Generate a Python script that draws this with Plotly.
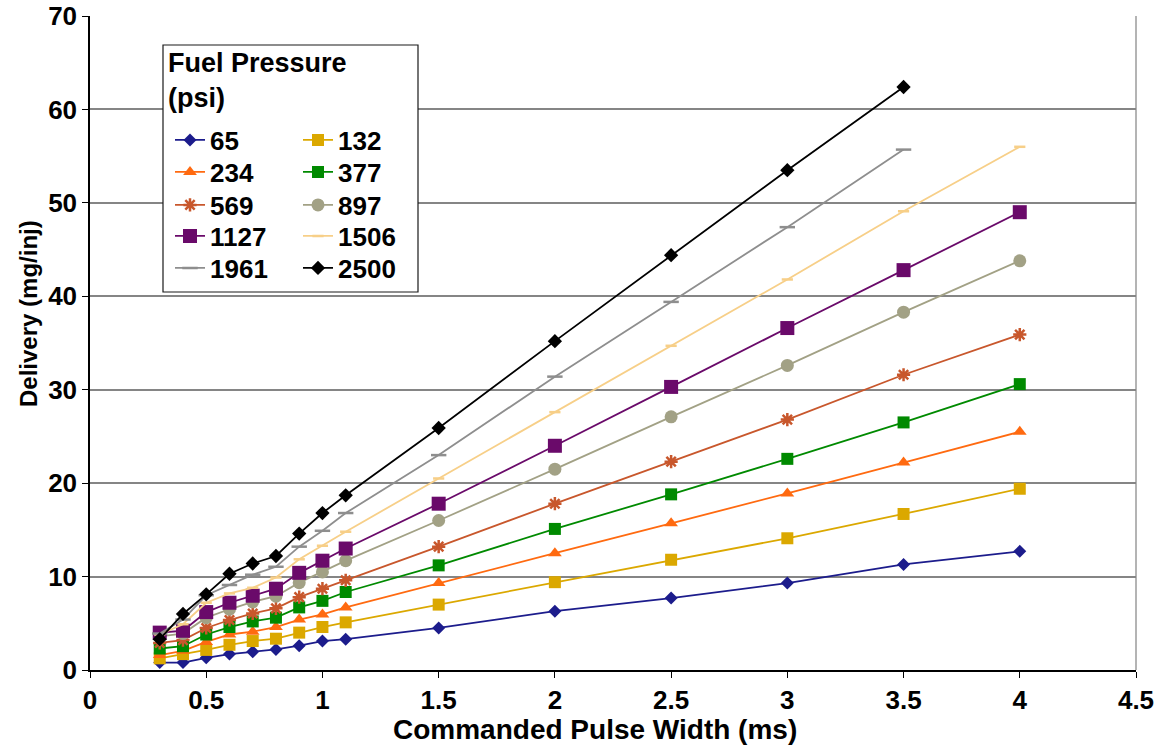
import plotly.graph_objects as go

# Commanded pulse width (ms)
pulse_width = [0.3, 0.4, 0.5, 0.6, 0.7, 0.8, 0.9, 1.0, 1.1, 1.5, 2.0, 2.5, 3.0, 3.5, 4.0]
pulse_width_short = pulse_width[:-1]

# Delivery (mg/inj) per fuel pressure (psi)
p65 = [0.8, 0.8, 1.3, 1.7, 1.95, 2.2, 2.6, 3.1, 3.3, 4.5, 6.3, 7.7, 9.3, 11.3, 12.7]
p132 = [1.25, 1.7, 2.15, 2.7, 3.1, 3.35, 4.0, 4.6, 5.1, 7.0, 9.4, 11.8, 14.1, 16.7, 19.4]
p234 = [1.6, 2.05, 3.0, 3.8, 4.1, 4.6, 5.4, 5.95, 6.7, 9.3, 12.5, 15.7, 18.9, 22.2, 25.5]
p377 = [2.3, 2.55, 3.8, 4.6, 5.2, 5.6, 6.7, 7.4, 8.35, 11.2, 15.1, 18.8, 22.6, 26.5, 30.6]
p569 = [2.9, 3.2, 4.5, 5.35, 6.05, 6.6, 7.8, 8.7, 9.6, 13.2, 17.8, 22.3, 26.8, 31.6, 35.9]
p897 = [3.6, 3.9, 5.6, 6.5, 7.3, 7.9, 9.35, 10.5, 11.7, 16.0, 21.5, 27.1, 32.6, 38.3, 43.8]
p1127 = [4.0, 4.2, 6.2, 7.2, 7.95, 8.7, 10.4, 11.7, 13.0, 17.8, 24.0, 30.3, 36.6, 42.8, 49.0]
p1506 = [3.8, 4.9, 7.2, 8.2, 8.8, 9.9, 11.85, 13.3, 14.8, 20.5, 27.6, 34.7, 41.8, 49.1, 56.0]
p1961 = [3.9, 5.4, 8.0, 9.1, 10.2, 11.05, 13.2, 14.9, 16.8, 23.0, 31.4, 39.4, 47.4, 55.7]
p2500 = [3.3, 6.0, 8.1, 10.3, 11.4, 12.2, 14.6, 16.8, 18.7, 25.9, 35.2, 44.4, 53.5, 62.4]

x_ticks = [0, 0.5, 1, 1.5, 2, 2.5, 3, 3.5, 4, 4.5]
x_tick_text = ["0", "0.5", "1", "1.5", "2", "2.5", "3", "3.5", "4", "4.5"]
y_ticks = [0, 10, 20, 30, 40, 50, 60, 70]

FONT = "Liberation Sans, Arial, sans-serif"

# name, x, y, colour, symbol, size, legend row
series = [
    ("65", pulse_width, p65, "#1c1c8c", "diamond", 10, 1),
    ("132", pulse_width, p132, "#dba800", "square", 12, 1),
    ("234", pulse_width, p234, "#ff6a10", "triangle-up", 12, 2),
    ("377", pulse_width, p377, "#008a00", "square", 12, 2),
    ("569", pulse_width, p569, "#c8572c", "asterisk-open", 11, 3),
    ("897", pulse_width, p897, "#a2a185", "circle", 13, 3),
    ("1127", pulse_width, p1127, "#6a0a6a", "square", 14, 4),
    ("1506", pulse_width, p1506, "#f7cf88", "line-ew-open", 8, 4),
    ("1961", pulse_width_short, p1961, "#8e8e8e", "line-ew-open", 11, 5),
    ("2500", pulse_width_short, p2500, "#000000", "diamond", 11, 5),
]

fig = go.Figure()
for name, xs, ys, color, symbol, size, row in series:
    open_sym = symbol.endswith("open")
    fig.add_trace(go.Scatter(
        x=xs, y=ys, name=name, mode="lines+markers",
        line=dict(color=color, width=1.8),
        marker=dict(symbol=symbol, size=size, color=color,
                    line=dict(color=color, width=2.5 if open_sym else 0)),
        legend="legend" if row == 1 else f"legend{row}",
    ))

plot_l, plot_r, plot_t, plot_b = 90, 29, 16, 76
W, H = 1165, 746
pw, ph = W - plot_l - plot_r, H - plot_t - plot_b


def px_x(p):
    return (p - plot_l) / pw


def px_y(p):
    return (H - plot_b - p) / ph


legend_common = dict(
    orientation="h", xanchor="left", yanchor="middle",
    bgcolor="rgba(0,0,0,0)", borderwidth=0,
    font=dict(family=FONT, size=26, color="#000000", weight="bold"),
    entrywidth=83, entrywidthmode="pixels",
    traceorder="normal",
)
row_centers = [140, 172, 205, 236, 268]
legends = {}
for i, yc in enumerate(row_centers):
    key = "legend" if i == 0 else f"legend{i + 1}"
    legends[key] = dict(legend_common, x=px_x(170), y=px_y(yc))

fig.update_layout(
    width=W, height=H,
    margin=dict(l=plot_l, r=plot_r, t=plot_t, b=plot_b, autoexpand=False),
    paper_bgcolor="white", plot_bgcolor="white",
    showlegend=True,
    font=dict(family=FONT, color="#000000"),
    xaxis=dict(
        range=[0, 4.5], tickvals=x_ticks, ticktext=x_tick_text,
        showgrid=False, zeroline=False,
        showline=True, linecolor="#000000", linewidth=1.5,
        ticks="outside", ticklen=6, tickcolor="#000000", tickwidth=1,
        tickfont=dict(family=FONT, size=26, color="#000000", weight="bold"),
    ),
    yaxis=dict(
        range=[0, 70], tickvals=y_ticks,
        showgrid=True, gridcolor="#858585", gridwidth=2,
        zeroline=False,
        showline=True, linecolor="#000000", linewidth=1.5,
        ticks="outside", ticklen=6, tickcolor="#000000", tickwidth=1,
        tickfont=dict(family=FONT, size=26, color="#000000", weight="bold"),
    ),
    **legends,
)

# right-hand frame edge
fig.add_shape(type="line", xref="paper", yref="paper", x0=1, x1=1, y0=0, y1=1,
              line=dict(color="#b4b4b4", width=2), layer="below")

# legend panel
fig.add_shape(type="rect", xref="paper", yref="paper",
              x0=px_x(163), x1=px_x(418), y0=px_y(292), y1=px_y(45),
              fillcolor="white", line=dict(color="#1a1a1a", width=1.2), layer="above")
fig.add_annotation(xref="paper", yref="paper", x=px_x(166), y=px_y(46),
                   xanchor="left", yanchor="top", align="left", showarrow=False,
                   text="Fuel Pressure<br>(psi)",
                   font=dict(family=FONT, size=27, color="#000000", weight="bold"))

# axis titles
fig.add_annotation(xref="paper", yref="paper", x=px_x(595), y=px_y(730),
                   xanchor="center", yanchor="middle", showarrow=False,
                   text="Commanded Pulse Width (ms)",
                   font=dict(family=FONT, size=28, color="#000000", weight="bold"))
fig.add_annotation(xref="paper", yref="paper", x=px_x(28), y=px_y(314),
                   xanchor="center", yanchor="middle", showarrow=False, textangle=-90,
                   text="Delivery (mg/inj)",
                   font=dict(family=FONT, size=24, color="#000000", weight="bold"))

fig.write_html("out.html")
